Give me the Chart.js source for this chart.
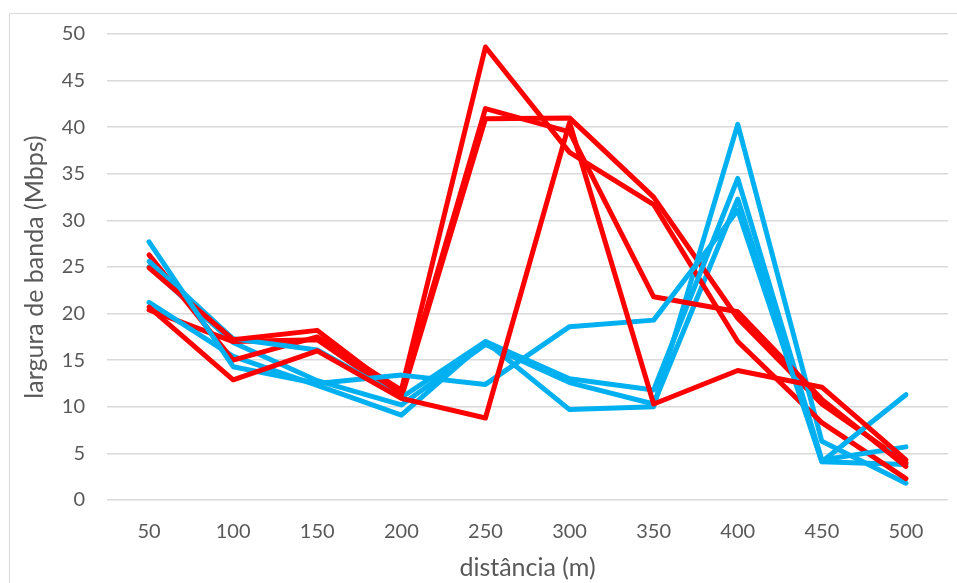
<!DOCTYPE html>
<html>
<head>
<meta charset="utf-8">
<script src="https://cdn.jsdelivr.net/npm/chart.js@4/dist/chart.umd.min.js"></script>
<style>
html,body{margin:0;padding:0;background:#fff;}
#wrap{width:957px;height:583px;position:relative;}
</style>
</head>
<body>
<div id="wrap"><canvas id="c" width="957" height="583"></canvas></div>
<script>
const categories = ['50','100','150','200','250','300','350','400','450','500'];
const red1 = [26.3, 15.0, 17.5, 11.8, 48.6, 37.3, 31.7, 17.0, 8.3, 2.3];
const red2 = [24.9, 17.2, 18.2, 11.3, 42.0, 39.5, 21.8, 20.2, 10.8, 3.6];
const red3 = [20.4, 17.0, 17.2, 11.0, 40.9, 41.0, 32.5, 19.5, 10.3, 4.0];
const red4 = [20.7, 12.9, 16.0, 10.9, 8.8, 40.5, 10.3, 13.9, 12.1, 4.3];
const blue1 = [27.7, 14.3, 12.5, 13.4, 12.4, 18.6, 19.3, 31.1, 4.1, 11.3];
const blue2 = [25.6, 17.3, 16.1, 11.0, 17.0, 13.0, 11.8, 34.5, 4.3, 5.7];
const blue3 = [21.2, 15.4, 12.3, 9.1, 17.0, 9.7, 10.0, 40.3, 6.3, 1.8];
const blue4 = [25.0, 16.9, 12.8, 10.2, 16.7, 12.6, 10.3, 32.3, 4.1, 3.8];
const yTitle = 'largura de banda (Mbps)';
const xTitle = 'distância (m)';

const RED = '#FF0000', BLUE = '#00B0F0';
function ds(data, color){
  return {data, borderColor: color, backgroundColor: color, borderWidth: 5,
    pointRadius: 0, tension: 0, fill: false,
    borderCapStyle: 'round', borderJoinStyle: 'round'};
}
const frame = {
  id: 'frame',
  beforeDraw(chart){
    const c = chart.ctx;
    c.save();
    c.strokeStyle = '#D9D9D9';
    c.lineWidth = 1;
    c.beginPath();
    c.moveTo(9.5, 600); c.lineTo(9.5, 13.5); c.lineTo(960, 13.5);
    c.stroke();
    c.restore();
  }
};
const FONT = 'Lato, "Open Sans", sans-serif';
new Chart(document.getElementById('c'), {
  type: 'line',
  data: {
    labels: categories,
    datasets: [
      ds(red4, RED), ds(blue1, BLUE), ds(red2, RED), ds(blue2, BLUE),
      ds(red1, RED), ds(blue3, BLUE), ds(red3, RED), ds(blue4, BLUE)
    ]
  },
  options: {
    responsive: false,
    animation: false,
    layout: {padding: {top: 34, right: 9, bottom: 0, left: 0}},
    plugins: {legend: {display: false}, tooltip: {enabled: false}},
    scales: {
      x: {
        offset: true,
        grid: {display: false, drawTicks: false},
        border: {display: false},
        ticks: {color: '#595959', font: {family: FONT, size: 20}, padding: 20, maxRotation: 0},
        title: {display: true, text: xTitle, color: '#595959', font: {family: FONT, size: 25}, padding: {top: 0, bottom: 0}},
        afterFit(s){ s.height = 83; }
      },
      y: {
        min: 0, max: 50,
        ticks: {stepSize: 5, color: '#595959', font: {family: FONT, size: 20}, padding: 22},
        grid: {color: '#D9D9D9', lineWidth: 1.5, drawTicks: false},
        border: {display: false},
        title: {display: true, text: yTitle, color: '#595959', font: {family: FONT, size: 25}, padding: {top: 20, bottom: 0}},
        afterFit(s){ s.width = 107; }
      }
    }
  },
  plugins: [frame]
});
</script>
</body>
</html>
